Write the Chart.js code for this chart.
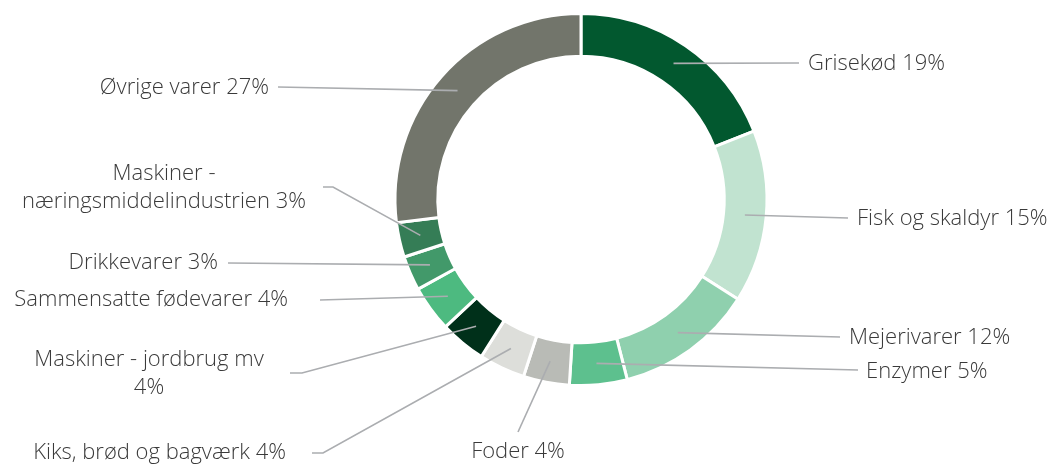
<!DOCTYPE html>
<html>
<head>
<meta charset="utf-8">
<script src="https://cdn.jsdelivr.net/npm/chart.js@4/dist/chart.umd.min.js"></script>
<style>
  html, body { margin: 0; padding: 0; background: #fff; }
  #wrap { width: 1053px; height: 468px; position: relative; }
</style>
</head>
<body>
<div id="wrap"><canvas id="exportChart"></canvas></div>
<script>
// Export shares by product group, in percent
const categories = [
    "Grisekød",
    "Fisk og skaldyr",
    "Mejerivarer",
    "Enzymer",
    "Foder",
    "Kiks, brød og bagværk",
    "Maskiner - jordbrug mv\n",
    "Sammensatte fødevarer",
    "Drikkevarer",
    "Maskiner -\nnæringsmiddelindustrien",
    "Øvrige varer",
];
const shares = [19, 15, 12, 5, 4, 4, 4, 4, 3, 3, 27];

const SLICE_COLORS = [
    "#02582f", "#c1e3d0", "#8fd0ae", "#5dc08e", "#b9bbb6", "#dddeda",
    "#00301a", "#4dba80", "#42996a", "#357d56", "#72756b",
];

// where each leader line bends / ends and where its text goes
// [ [bend points...], textX, textY, align ]
const labelLayout = [
    [[[799, 63]], 808, 64, "left"],
    [[[848, 218]], 857, 219, "left"],
    [[[840, 337]], 849, 338, "left"],
    [[[858, 370]], 866, 372, "left"],
    [[[518, 432]], 518, 452, "center"],
    [[[323, 453], [312, 453]], 286, 453, "right"],
    [[[302, 373], [290, 373]], 149, 360, "center"],
    [[[320, 300]], 288, 300, "right"],
    [[[228, 263]], 218, 263, "right"],
    [[[333, 187], [323, 187]], 164, 174, "center"],
    [[[278, 87]], 269, 88, "right"],
];

const leaderLabels = {
    id: "leaderLabels",
    afterDatasetsDraw(chart) {
        const ctx = chart.ctx;
        const meta = chart.getDatasetMeta(0);
        ctx.save();
        meta.data.forEach((arc, i) => {
            const p = arc.getProps(["x", "y", "startAngle", "endAngle", "innerRadius", "outerRadius"], true);
            const mid = (p.startAngle + p.endAngle) / 2;
            const r = (p.innerRadius + p.outerRadius) / 2;
            const [bends, tx, ty, align] = labelLayout[i];

            ctx.beginPath();
            ctx.moveTo(p.x + Math.cos(mid) * r, p.y + Math.sin(mid) * r);
            bends.forEach(([bx, by]) => ctx.lineTo(bx, by));
            ctx.strokeStyle = "#abadb0";
            ctx.lineWidth = 1.6;
            ctx.stroke();

            const text = categories[i] + " " + shares[i] + "%";
            const lines = text.split("\n").map(s => s.trim());
            ctx.font = "300 22px 'Open Sans'";
            ctx.fillStyle = "#3a3a3a";
            ctx.textAlign = align;
            ctx.textBaseline = "middle";
            lines.forEach((line, j) => ctx.fillText(line, tx, ty + j * 28));
        });
        ctx.restore();
    },
};

new Chart(document.getElementById("exportChart"), {
    type: "doughnut",
    data: {
        labels: categories,
        datasets: [{
            data: shares,
            backgroundColor: SLICE_COLORS,
            borderColor: "#ffffff",
            borderWidth: 3,
        }],
    },
    options: {
        responsive: true,
        maintainAspectRatio: false,
        animation: false,
        cutout: "77%",
        layout: { padding: { left: 109, top: 12, bottom: 81 } },
        plugins: {
            legend: { display: false },
            tooltip: { enabled: false },
        },
    },
    plugins: [leaderLabels],
});
</script>
</body>
</html>
